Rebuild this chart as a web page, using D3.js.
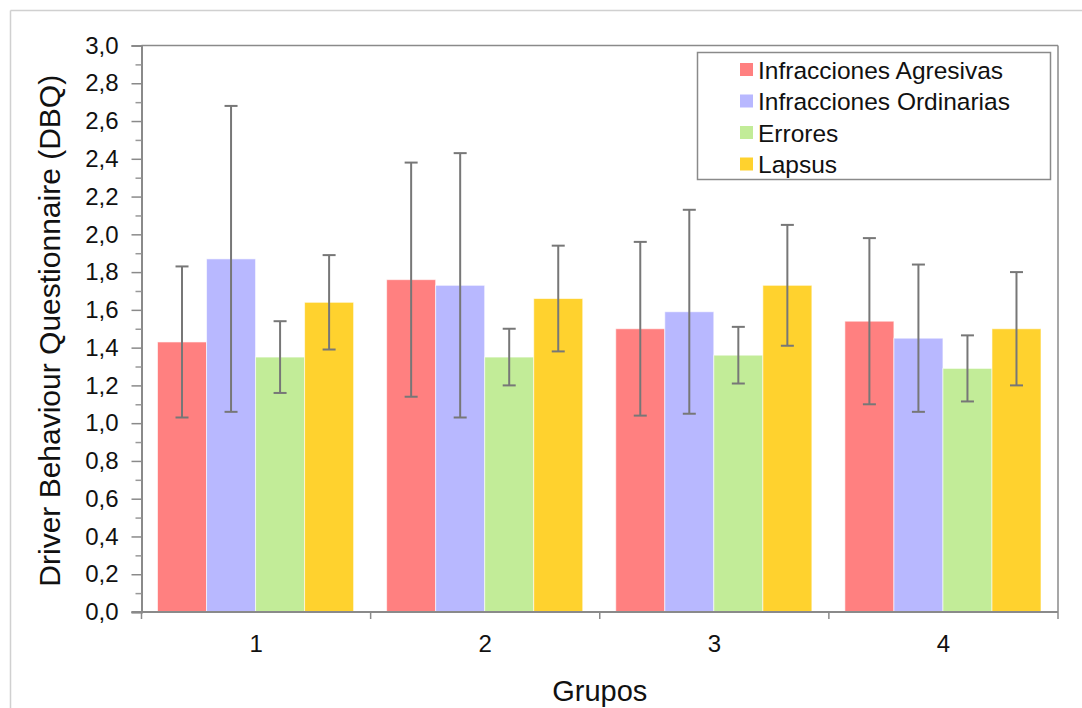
<!DOCTYPE html>
<html>
<head>
<meta charset="utf-8">
<script src="https://cdn.jsdelivr.net/npm/d3@7/dist/d3.min.js"></script>
<style>
  html, body { margin: 0; padding: 0; background: #fff; }
  svg { display: block; font-family: "Liberation Sans", Arial, sans-serif; }
</style>
</head>
<body>
<svg id="chart" width="1082" height="708"></svg>
<script>
// ---- data ----
const categories = ["1", "2", "3", "4"];
const seriesNames = ["Infracciones Agresivas", "Infracciones Ordinarias", "Errores", "Lapsus"];
const agresivas   = [1.43, 1.76, 1.50, 1.54];
const ordinarias  = [1.87, 1.73, 1.59, 1.45];
const errores     = [1.35, 1.35, 1.36, 1.29];
const lapsus      = [1.64, 1.66, 1.73, 1.50];
const sdAgresivas  = [0.40, 0.62, 0.46, 0.44];
const sdOrdinarias = [0.81, 0.70, 0.54, 0.39];
const sdErrores    = [0.19, 0.15, 0.15, 0.175];
const sdLapsus     = [0.25, 0.28, 0.32, 0.30];
const yTicks = [0, 0.2, 0.4, 0.6, 0.8, 1.0, 1.2, 1.4, 1.6, 1.8, 2.0, 2.2, 2.4, 2.6, 2.8, 3.0];
const yMinorTicks = [0.1, 0.3, 0.5, 0.7, 0.9, 1.1, 1.3, 1.5, 1.7, 1.9, 2.1, 2.3, 2.5, 2.7, 2.9];
const colors = ["#ff8080", "#b8b8ff", "#c2ec98", "#ffd22e"];
const yTitle = "Driver Behaviour Questionnaire (DBQ)";
const xTitle = "Grupos";

const values = [agresivas, ordinarias, errores, lapsus];
const sds = [sdAgresivas, sdOrdinarias, sdErrores, sdLapsus];

// ---- layout ----
const svg = d3.select("#chart");
const L = 141.5, R = 1058, T = 45.5, B = 612;

// outer frame (top and left visible)
svg.append("line").attr("x1", 10.5).attr("x2", 1082).attr("y1", 10.5).attr("y2", 10.5)
  .attr("stroke", "#d0d0d0").attr("stroke-width", 1.5);
svg.append("line").attr("x1", 10.5).attr("x2", 10.5).attr("y1", 10.5).attr("y2", 708)
  .attr("stroke", "#d0d0d0").attr("stroke-width", 1.5);

const x0 = d3.scaleBand().domain(categories).range([L, R]).padding(0);
const bw = x0.bandwidth();
const x1 = d3.scaleBand().domain(seriesNames).range([16, bw - 17]).padding(0);
const y = d3.scaleLinear().domain([0, 3]).range([B, T]);

// plot frame top/right
svg.append("line").attr("x1", L).attr("x2", R).attr("y1", T).attr("y2", T)
  .attr("stroke", "#8a8a8a").attr("stroke-width", 1.5);
svg.append("line").attr("x1", R).attr("x2", R).attr("y1", T).attr("y2", B)
  .attr("stroke", "#8a8a8a").attr("stroke-width", 1.5);

// bars
const groups = svg.append("g").selectAll("g").data(categories).join("g")
  .attr("transform", d => `translate(${x0(d)},0)`);

seriesNames.forEach((s, si) => {
  groups.append("rect")
    .attr("x", (d) => x1(s))
    .attr("width", x1.bandwidth())
    .attr("y", (d, i) => y(values[si][i]))
    .attr("height", (d, i) => B - y(values[si][i]))
    .attr("fill", colors[si])
    .attr("stroke", "#ffffff").attr("stroke-opacity", 0.6).attr("stroke-width", 1);
});

// error bars
seriesNames.forEach((s, si) => {
  const cx = x1(s) + x1.bandwidth() / 2;
  const eg = groups.append("g").attr("stroke", "#777").attr("stroke-width", 2).attr("fill", "none");
  eg.append("line").attr("x1", cx).attr("x2", cx)
    .attr("y1", (d, i) => y(values[si][i] + sds[si][i]))
    .attr("y2", (d, i) => y(values[si][i] - sds[si][i]));
  eg.append("line").attr("x1", cx - 6.5).attr("x2", cx + 6.5)
    .attr("y1", (d, i) => y(values[si][i] + sds[si][i]))
    .attr("y2", (d, i) => y(values[si][i] + sds[si][i]));
  eg.append("line").attr("x1", cx - 6.5).attr("x2", cx + 6.5)
    .attr("y1", (d, i) => y(values[si][i] - sds[si][i]))
    .attr("y2", (d, i) => y(values[si][i] - sds[si][i]));
});

// y axis
const fmt = v => d3.format(".1f")(v).replace(".", ",");
const yAxis = svg.append("g").attr("transform", `translate(${L},0)`)
  .call(d3.axisLeft(y).tickValues(yTicks).tickFormat(fmt).tickSize(10).tickPadding(13));
yAxis.select(".domain").attr("stroke", "#8a8a8a").attr("stroke-width", 2);
yAxis.selectAll(".tick line").attr("stroke", "#8a8a8a").attr("stroke-width", 1.5);
yAxis.selectAll(".tick text").attr("font-size", 24).attr("fill", "#111")
  .attr("font-family", "'Liberation Sans', Arial, sans-serif");
const yMinor = svg.append("g").attr("transform", `translate(${L},0)`)
  .call(d3.axisLeft(y).tickValues(yMinorTicks).tickFormat("").tickSize(6));
yMinor.select(".domain").remove();
yMinor.selectAll(".tick line").attr("stroke", "#999").attr("stroke-width", 1.5);

// x axis
const xAxis = svg.append("g").attr("transform", `translate(0,${B})`)
  .call(d3.axisBottom(x0).tickSize(0).tickPadding(23));
xAxis.select(".domain").attr("stroke", "#8a8a8a").attr("stroke-width", 2).attr("d", `M${L - 10},0H${R}`);
xAxis.selectAll(".tick text").attr("font-size", 24).attr("fill", "#111")
  .attr("font-family", "'Liberation Sans', Arial, sans-serif");
// category separators
const seps = [L].concat(categories.map(c => x0(c) + bw));
svg.append("g").selectAll("line").data(seps).join("line")
  .attr("x1", d => d).attr("x2", d => d).attr("y1", B).attr("y2", B + 7)
  .attr("stroke", "#8a8a8a").attr("stroke-width", 1.5);

// titles
svg.append("text").attr("transform", `translate(60,${(T + B) / 2 + 2}) rotate(-90)`)
  .attr("text-anchor", "middle").attr("font-size", 30).attr("fill", "#111").text(yTitle);
svg.append("text").attr("x", (L + R) / 2).attr("y", 701)
  .attr("text-anchor", "middle").attr("font-size", 29).attr("fill", "#111").text(xTitle);

// legend
const lg = svg.append("g");
lg.append("rect").attr("x", 697.5).attr("y", 52.5).attr("width", 353).attr("height", 127)
  .attr("fill", "#fff").attr("stroke", "#8a8a8a").attr("stroke-width", 1.5);
seriesNames.forEach((s, i) => {
  const cy = 70 + i * 31.5;
  lg.append("rect").attr("x", 740).attr("y", cy - 7).attr("width", 13).attr("height", 13).attr("fill", colors[i]);
  lg.append("text").attr("x", 758).attr("y", cy + 8.5).attr("font-size", 24.5).attr("fill", "#111").text(s);
});
</script>
</body>
</html>
